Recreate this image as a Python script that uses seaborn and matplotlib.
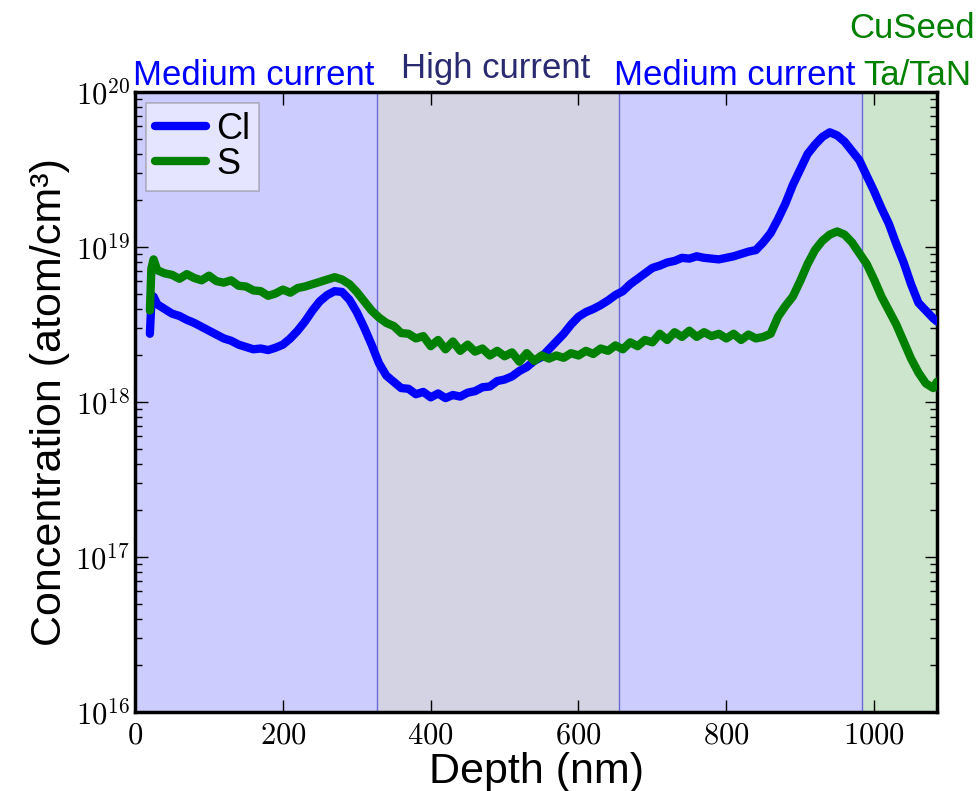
import numpy as np
import pandas as pd
import matplotlib
matplotlib.use("Agg")
import matplotlib.pyplot as plt
import seaborn as sns
from matplotlib.ticker import FuncFormatter, LogLocator, NullFormatter

# ---------------- data ----------------
depth = [20, 22, 25, 30, 40, 50, 60, 70, 80, 90, 100, 110, 120, 130, 140, 150, 160, 170, 180, 190,
         200, 210, 220, 230, 240, 250, 260, 270, 280, 290, 300, 310, 320, 330, 340, 350, 360, 370,
         380, 390, 400, 410, 420, 430, 440, 450, 460, 470, 480, 490, 500, 510, 520, 530, 540, 550,
         560, 570, 580, 590, 600, 610, 620, 630, 640, 650, 660, 670, 680, 690, 700, 710, 720, 730,
         740, 750, 760, 770, 780, 790, 800, 810, 820, 830, 840, 850, 860, 870, 880, 890, 900, 910,
         920, 930, 940, 950, 960, 970, 980, 990, 1000, 1010, 1020, 1030, 1040, 1050, 1060, 1070,
         1080, 1085]

cl_log10 = [18.44, 18.64, 18.68, 18.63, 18.60, 18.57, 18.555, 18.53, 18.51, 18.485, 18.46, 18.435,
            18.41, 18.395, 18.37, 18.355, 18.34, 18.345, 18.335, 18.35, 18.37, 18.41, 18.46, 18.52,
            18.59, 18.65, 18.69, 18.715, 18.71, 18.66, 18.58, 18.48, 18.37, 18.25, 18.17, 18.13,
            18.09, 18.085, 18.05, 18.065, 18.03, 18.055, 18.025, 18.045, 18.035, 18.06, 18.07, 18.095,
            18.10, 18.135, 18.145, 18.165, 18.20, 18.225, 18.265, 18.29, 18.34, 18.39, 18.44, 18.50,
            18.55, 18.58, 18.60, 18.625, 18.655, 18.69, 18.715, 18.76, 18.795, 18.83, 18.865, 18.88,
            18.90, 18.91, 18.93, 18.925, 18.94, 18.93, 18.925, 18.92, 18.93, 18.94, 18.955, 18.97,
            18.98, 19.03, 19.09, 19.18, 19.28, 19.40, 19.50, 19.60, 19.66, 19.71, 19.74, 19.72,
            19.68, 19.62, 19.56, 19.46, 19.36, 19.25, 19.15, 19.02, 18.90, 18.76, 18.64, 18.59,
            18.54, 18.52]

s_log10 = [18.59, 18.86, 18.92, 18.85, 18.83, 18.82, 18.795, 18.825, 18.80, 18.785, 18.815, 18.78,
           18.77, 18.785, 18.75, 18.745, 18.72, 18.715, 18.685, 18.70, 18.725, 18.705, 18.735, 18.745,
           18.76, 18.775, 18.79, 18.805, 18.79, 18.76, 18.71, 18.65, 18.59, 18.545, 18.51, 18.49,
           18.445, 18.44, 18.41, 18.425, 18.36, 18.40, 18.34, 18.39, 18.33, 18.37, 18.325, 18.345,
           18.30, 18.33, 18.295, 18.32, 18.26, 18.315, 18.265, 18.30, 18.28, 18.30, 18.285, 18.315,
           18.30, 18.33, 18.31, 18.345, 18.33, 18.365, 18.34, 18.385, 18.36, 18.40, 18.385, 18.44,
           18.40, 18.45, 18.42, 18.46, 18.42, 18.45, 18.425, 18.44, 18.41, 18.44, 18.40, 18.435,
           18.41, 18.42, 18.44, 18.55, 18.62, 18.68, 18.78, 18.89, 18.98, 19.04, 19.08, 19.10,
           19.08, 19.03, 18.96, 18.89, 18.79, 18.68, 18.59, 18.50, 18.39, 18.28, 18.19, 18.12,
           18.09, 18.13]

regions = ["Medium current", "High current", "Medium current", "Ta/TaN"]
region_bounds = [0, 327, 655, 983, 1090]
region_colors = ["#ccccff", "#d3d3e3", "#ccccff", "#cde5cd"]
region_text_colors = ["#0000ff", "#2a2a70", "#0000ff", "#008000"]

# ---------------- style ----------------
sns.set_style("ticks")
plt.rcParams["font.family"] = ["Liberation Sans", "DejaVu Sans"]
plt.rcParams["mathtext.fontset"] = "cm"
plt.rcParams["text.color"] = "black"
plt.rcParams["axes.labelcolor"] = "black"

fig = plt.figure(figsize=(9.79, 7.91), dpi=100)
ax = fig.add_axes([0.138, 0.0999, 0.819, 0.7838])

# background regions
for i in range(len(regions)):
    ax.axvspan(region_bounds[i], region_bounds[i + 1], color=region_colors[i], lw=0, zorder=0)
for b in region_bounds[1:-1]:
    ax.axvline(b, color="#6a6ad8", lw=1.0, zorder=1)

df = pd.DataFrame({
    "Depth": depth * 2,
    "Conc": list(10 ** np.array(cl_log10)) + list(10 ** np.array(s_log10)),
    "Element": ["Cl"] * len(depth) + ["S"] * len(depth),
})
sns.lineplot(data=df, x="Depth", y="Conc", hue="Element", palette={"Cl": "#0000ff", "S": "#008000"},
             lw=6, ax=ax, sort=False, estimator=None, zorder=3)

ax.set_yscale("log")
ax.set_xlim(0, 1085)
ax.set_ylim(1e16, 1e20)

ax.yaxis.set_major_locator(LogLocator(base=10, numticks=10))
ax.yaxis.set_minor_locator(LogLocator(base=10, subs=np.arange(2, 10), numticks=10))
ax.yaxis.set_minor_formatter(NullFormatter())
ax.yaxis.set_major_formatter(FuncFormatter(lambda v, p: r"$10^{%d}$" % round(np.log10(v))))
ax.set_xticks([0, 200, 400, 600, 800, 1000])
ax.xaxis.set_major_formatter(FuncFormatter(lambda v, p: r"$%d$" % v))

ax.tick_params(which="both", direction="in", top=True, right=True, labelsize=22,
               colors="black", labelcolor="black")
ax.tick_params(which="major", length=9, width=1)
ax.tick_params(which="minor", length=5, width=1)
ax.tick_params(axis="x", pad=6)
for s in ax.spines.values():
    s.set_linewidth(2.5)
    s.set_color("black")

ax.set_xlabel("Depth (nm)", fontsize=31, labelpad=1, color="black")
ax.set_ylabel("Concentration (atom/cm³)", fontsize=31, labelpad=4, color="black")

# region labels
text_x = [161, 488, 812, 1058]
text_y = [1.011, 1.022, 1.011, 1.011]
for t, xx, yy, c in zip(regions, text_x, text_y, region_text_colors):
    ax.text(xx, yy, t, color=c, fontsize=25, ha="center", va="baseline",
            transform=ax.get_xaxis_transform())
ax.text(1051, 1.087, "CuSeed", color="#008000", fontsize=25, ha="center", va="baseline",
        transform=ax.get_xaxis_transform())

leg = ax.legend(loc="upper left", fontsize=26, handlelength=1.4, handletextpad=0.3,
                borderpad=0.25, labelspacing=0.0, fancybox=False, framealpha=0.5,
                edgecolor="gray", title=None, bbox_to_anchor=(0.0, 1.0), borderaxespad=0.3)
leg.get_frame().set_linewidth(1.2)
for h in leg.get_lines():
    h.set_linewidth(6)
for t in leg.get_texts():
    t.set_color("black")

fig.savefig("out.png", dpi=100)
